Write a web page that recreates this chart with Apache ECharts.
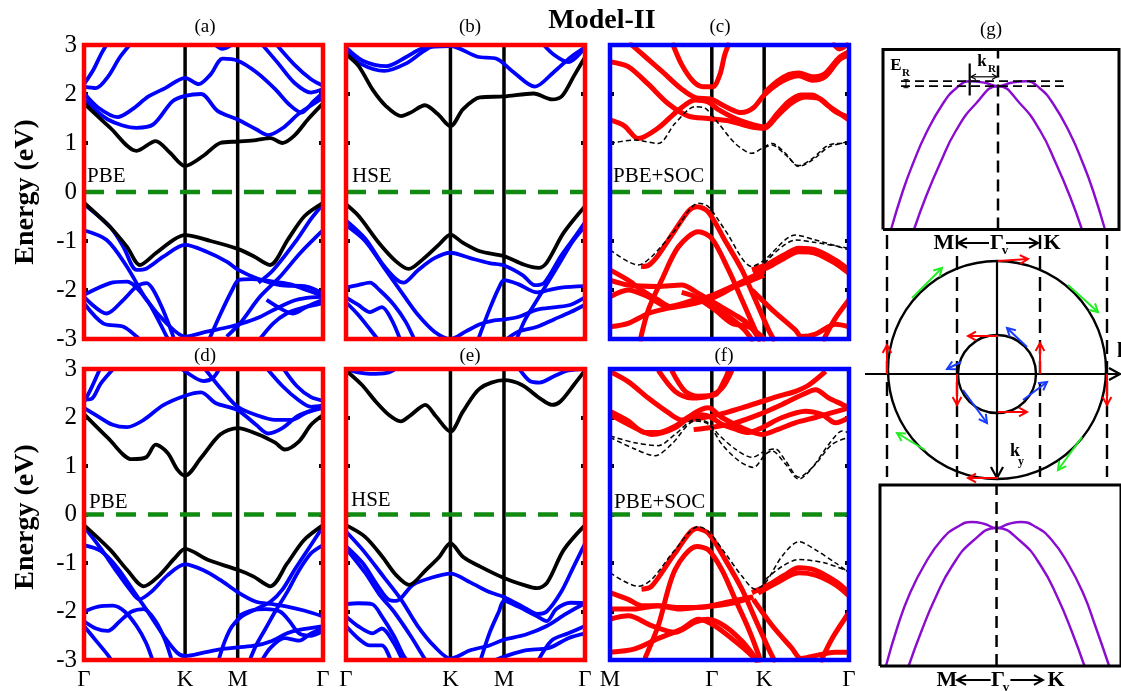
<!DOCTYPE html>
<html><head><meta charset="utf-8">
<script src="https://cdn.jsdelivr.net/npm/echarts@6/dist/echarts.min.js"></script>
<style>html,body{margin:0;padding:0;background:#fff}#c{width:1121px;height:691px}</style>
</head><body><div id="c"></div>
<script>
// ================= DATA =================
const energyRange = [-3, 3];
const pathGKMG = ['Γ','K','M','Γ'];
const pathMGKG = ['M','Γ','K','Γ'];
const kposAD = [0, 0.423, 0.643, 1];
const kposBE = [0, 0.437, 0.661, 1];
const kposCF = [0, 0.426, 0.645, 1];

const panelA_black = [
 [[0,1.81],[0.11,1.31],[0.22,0.84],[0.30,1.04],[0.36,0.80],[0.423,0.53],[0.50,0.74],[0.57,1.0],[0.643,1.03],[0.72,1.06],[0.78,1.1],[0.83,1.0],[0.88,1.15],[0.94,1.5],[1,1.81]],
 [[0,-0.22],[0.11,-0.72],[0.18,-1.12],[0.234,-1.49],[0.3,-1.25],[0.376,-0.97],[0.423,-0.88],[0.53,-1.0],[0.643,-1.16],[0.71,-1.31],[0.778,-1.49],[0.853,-0.97],[0.923,-0.49],[1,-0.22]]
];
const panelA_blue = [
 [[0,2.2],[0.04,2.5],[0.07,2.8],[0.1,3.05]],
 [[0,2.15],[0.05,2.12],[0.1,2.35],[0.15,2.75],[0.2,3.05]],
 [[0,2.02],[0.06,1.72],[0.14,1.53],[0.2,1.68],[0.27,1.95],[0.34,2.12],[0.423,2.33],[0.48,2.2],[0.53,2.4],[0.58,2.72],[0.643,2.68],[0.72,2.45],[0.8,2.1],[0.86,1.78],[0.91,1.62],[0.96,1.85],[1,2.03]],
 [[0,1.9],[0.1,1.48],[0.22,1.31],[0.29,1.38],[0.37,1.85],[0.423,1.96],[0.49,2.0],[0.56,1.65],[0.643,1.48],[0.72,1.28],[0.77,1.16],[0.83,1.3],[0.9,1.6],[1,1.92]],
 [[0.54,3.04],[0.58,2.92],[0.63,3.04]],
 [[0.74,3.04],[0.81,2.64],[0.88,2.23],[0.95,2.03],[1,2.1]],
 [[0.8,3.04],[0.88,2.6],[0.95,2.3],[1,2.17]],
 [[0,-0.25],[0.109,-0.71],[0.165,-1.12],[0.22,-1.59],[0.262,-1.56],[0.332,-1.32],[0.423,-1.08],[0.513,-1.22],[0.597,-1.42],[0.646,-1.59],[0.722,-1.76],[0.82,-1.9],[0.932,-1.93],[1,-2.07]],
 [[0,-0.78],[0.095,-0.98],[0.179,-1.52],[0.262,-2.2],[0.346,-2.68],[0.423,-2.95],[0.513,-2.85],[0.611,-2.75],[0.681,-2.65],[0.736,-2.55],[0.82,-2.34],[0.89,-2.2],[0.95,-2.15],[1,-2.14]],
 [[0.52,-3.05],[0.57,-2.5],[0.62,-2.0],[0.646,-1.8],[0.7,-1.78],[0.78,-1.82],[0.86,-1.88],[0.93,-2.0],[1,-2.12]],
 [[0.597,-2.95],[0.653,-2.68],[0.736,-2.14],[0.82,-1.73],[0.904,-1.25],[1,-0.78]],
 [[0.73,-1.85],[0.792,-1.59],[0.89,-0.98],[0.95,-0.55],[1,-0.25]],
 [[0,-2.1],[0.109,-1.86],[0.179,-1.83],[0.262,-2.2],[0.318,-2.68],[0.346,-2.95],[0.36,-3.05]],
 [[0,-2.14],[0.095,-2.48],[0.165,-2.2],[0.22,-1.93],[0.262,-1.86],[0.29,-2.0],[0.33,-2.4],[0.37,-2.9],[0.38,-3.05]],
 [[0,-2.27],[0.08,-2.68],[0.165,-2.75],[0.22,-2.95],[0.24,-3.05]],
 [[0.764,-2.2],[0.834,-2.41],[0.876,-2.48],[0.932,-2.34],[1,-2.2]],
 [[0.736,-3.0],[0.792,-2.68],[0.848,-2.48],[0.904,-2.38],[1,-2.27]]
];

const panelB_black = [
 [[0,2.81],[0.053,2.57],[0.11,2.10],[0.166,1.76],[0.23,1.55],[0.27,1.62],[0.33,1.77],[0.384,1.59],[0.437,1.34],[0.49,1.69],[0.56,1.93],[0.661,1.95],[0.785,2.01],[0.862,1.89],[0.904,1.96],[0.954,2.37],[1,2.75]],
 [[0,-0.25],[0.053,-0.49],[0.138,-1.04],[0.208,-1.41],[0.262,-1.57],[0.32,-1.38],[0.39,-1.07],[0.437,-0.87],[0.49,-1.04],[0.56,-1.21],[0.661,-1.31],[0.743,-1.48],[0.806,-1.55],[0.84,-1.44],[0.911,-0.83],[1,-0.29]]
];
const panelB_blue = [
 [[0,2.95],[0.07,2.68],[0.17,2.57],[0.25,2.75],[0.32,2.93],[0.437,2.98],[0.55,2.76],[0.63,2.72],[0.7,2.45],[0.79,2.15],[0.87,2.45],[0.94,2.75],[1,2.95]],
 [[0,2.88],[0.06,2.62],[0.16,2.47],[0.25,2.62],[0.32,2.86],[0.38,3.04]],
 [[0.82,3.04],[0.87,2.8],[0.93,2.65],[1,2.95]],
 [[0,-0.58],[0.08,-0.95],[0.15,-1.45],[0.21,-1.78],[0.24,-1.85],[0.3,-1.6],[0.37,-1.35],[0.437,-1.24],[0.52,-1.35],[0.6,-1.45],[0.661,-1.5],[0.74,-1.7],[0.79,-1.9],[0.83,-1.85],[0.9,-1.3],[0.96,-0.9],[1,-0.62]],
 [[0,-0.68],[0.08,-1.0],[0.16,-1.55],[0.24,-2.1],[0.3,-2.5],[0.37,-2.85],[0.437,-3.0],[0.5,-2.85],[0.56,-2.7],[0.62,-2.62],[0.661,-2.6],[0.72,-2.55],[0.8,-2.4],[0.88,-2.35],[0.94,-2.3],[1,-2.15]],
 [[0.55,-3.05],[0.6,-2.4],[0.64,-1.95],[0.661,-1.8],[0.72,-1.88],[0.8,-2.05],[0.85,-2.0],[0.9,-1.95],[1,-1.92]],
 [[0.71,-3.05],[0.75,-2.6],[0.8,-2.2],[0.85,-1.8],[0.9,-1.4],[0.95,-1.0],[1,-0.7]],
 [[0.66,-3.05],[0.72,-2.85],[0.8,-2.75],[0.87,-2.6],[0.94,-2.45],[1,-2.3]],
 [[0,-1.95],[0.05,-1.9],[0.1,-1.85],[0.14,-2.0],[0.2,-2.3],[0.25,-2.65],[0.29,-3.05]],
 [[0,-2.15],[0.05,-2.3],[0.1,-2.45],[0.15,-2.35],[0.19,-2.6],[0.23,-3.05]],
 [[0,-2.25],[0.05,-2.5],[0.1,-2.8],[0.14,-3.05]]
];

const panelC_red = [
 [[0,1.47],[0.06,1.35],[0.118,1.09],[0.2,1.3],[0.286,1.67],[0.356,1.88],[0.41,1.84],[0.454,1.68],[0.524,1.5],[0.594,1.38],[0.645,1.33],[0.7,1.6],[0.748,1.85],[0.8,1.98],[0.846,1.98],[0.916,1.75],[1,1.47]],
 [[0,2.66],[0.076,2.56],[0.16,2.2],[0.244,1.8],[0.328,1.55],[0.41,1.5],[0.5,1.45],[0.58,1.34],[0.645,1.3],[0.7,1.55],[0.76,1.82],[0.82,1.94],[0.88,1.9],[0.94,1.65],[1,1.52]],
 [[0.26,3.05],[0.3,2.6],[0.35,2.25],[0.39,2.15],[0.43,2.15],[0.46,2.4],[0.48,2.8],[0.5,3.05]],
 [[0.08,3.05],[0.15,2.75],[0.22,2.45],[0.3,2.1],[0.36,1.92],[0.42,1.9],[0.48,1.75],[0.55,1.62],[0.6,1.72],[0.645,1.98],[0.7,2.2],[0.75,2.33],[0.79,2.37],[0.846,2.28],[0.9,2.35],[0.958,2.69],[1,2.8]],
 [[0.645,2.02],[0.7,2.26],[0.75,2.4],[0.79,2.43],[0.846,2.35],[0.9,2.42],[0.958,2.74],[1,2.86]],
 [[0.93,3.05],[0.96,2.92],[1,3.04]],
 [[0.13,-1.52],[0.16,-1.5],[0.2,-1.3],[0.272,-0.78],[0.33,-0.38],[0.363,-0.3],[0.41,-0.4],[0.48,-0.98],[0.552,-1.59],[0.608,-2.2],[0.664,-2.82],[0.69,-3.05]],
 [[0.125,-3.05],[0.16,-2.41],[0.216,-1.8],[0.286,-1.12],[0.37,-0.81],[0.426,-0.95],[0.496,-1.59],[0.552,-2.2],[0.608,-2.82],[0.63,-3.05]],
 [[0.594,-1.59],[0.664,-1.46],[0.73,-1.28],[0.79,-1.15],[0.86,-1.18],[0.944,-1.39],[1,-1.59]],
 [[0.6,-1.66],[0.664,-1.53],[0.73,-1.35],[0.79,-1.22],[0.86,-1.25],[0.944,-1.46],[1,-1.66]],
 [[0,-1.59],[0.076,-1.8],[0.132,-2.0],[0.2,-2.2],[0.26,-2.35],[0.33,-2.25],[0.37,-2.2],[0.43,-2.35],[0.5,-2.55],[0.56,-2.8],[0.6,-3.05]],
 [[0,-1.8],[0.076,-1.9],[0.2,-1.93],[0.3,-1.9],[0.37,-2.07],[0.45,-2.3],[0.52,-2.5],[0.58,-2.7],[0.63,-3.05]],
 [[0,-2.14],[0.076,-2.0],[0.16,-2.14],[0.244,-2.34],[0.356,-2.2],[0.41,-2.14],[0.51,-1.93],[0.594,-1.73],[0.645,-1.62]],
 [[0,-2.75],[0.076,-2.68],[0.16,-2.48],[0.244,-2.37],[0.356,-2.27],[0.44,-2.14],[0.524,-1.93],[0.594,-1.8],[0.645,-1.7]],
 [[0.3,-2.05],[0.356,-2.14],[0.44,-2.41],[0.51,-2.68],[0.58,-2.75],[0.636,-2.95],[0.65,-3.05]],
 [[0.594,-2.0],[0.68,-2.41],[0.776,-2.82],[0.8,-2.95],[0.86,-2.9],[0.944,-2.7],[1,-2.75]],
 [[0.89,-3.05],[0.94,-2.6],[1,-2.2]]
];
const panelC_dash = [
 [[0,0.99],[0.104,1.06],[0.202,0.99],[0.272,1.4],[0.356,1.74],[0.398,1.71],[0.454,1.4],[0.524,0.99],[0.594,0.79],[0.645,0.92],[0.678,0.99],[0.734,0.79],[0.79,0.52],[0.846,0.65],[0.916,0.92],[1,1.03]],
 [[0.645,0.9],[0.678,0.96],[0.734,0.76],[0.79,0.54],[0.846,0.68],[0.916,0.96],[1,1.0]],
 [[0,-1.18],[0.118,-1.49],[0.174,-1.32],[0.272,-0.78],[0.37,-0.23],[0.412,-0.3],[0.482,-0.78],[0.594,-1.52],[0.645,-1.39],[0.776,-0.88],[0.86,-0.98],[1,-1.18]],
 [[0.645,-1.46],[0.776,-0.98],[0.86,-1.03],[1,-1.15]]
];

const panelD_black = [
 [[0,2.07],[0.1,1.58],[0.2,1.14],[0.26,1.18],[0.30,1.44],[0.35,1.27],[0.39,0.93],[0.423,0.8],[0.49,1.17],[0.57,1.65],[0.643,1.78],[0.73,1.65],[0.8,1.48],[0.84,1.34],[0.9,1.51],[0.95,1.85],[1,2.05]],
 [[0,-0.22],[0.11,-0.73],[0.18,-1.14],[0.25,-1.48],[0.31,-1.28],[0.38,-0.9],[0.423,-0.71],[0.52,-0.94],[0.643,-1.14],[0.71,-1.28],[0.78,-1.48],[0.85,-1.01],[0.92,-0.53],[1,-0.22]]
];
const panelD_blue = [
 [[0,2.37],[0.03,2.38],[0.07,2.7],[0.13,3.04]],
 [[0,2.32],[0.03,2.6],[0.07,3.04]],
 [[0,2.2],[0.05,2.05],[0.12,1.85],[0.18,1.8],[0.25,1.95],[0.33,2.25],[0.423,2.45],[0.49,2.52],[0.55,2.3],[0.643,2.15],[0.72,1.85],[0.77,1.67],[0.83,1.78],[0.9,2.05],[1,2.2]],
 [[0.5,3.04],[0.58,2.55],[0.643,2.22],[0.72,2.05],[0.8,1.95],[0.87,1.95],[0.93,2.1],[1,2.22]],
 [[0.4,3.04],[0.423,2.95],[0.5,2.75],[0.54,2.82],[0.57,3.04]],
 [[0.76,3.04],[0.83,2.65],[0.9,2.35],[0.95,2.22],[1,2.25]],
 [[0.83,3.04],[0.89,2.65],[0.95,2.42],[1,2.35]],
 [[0,-0.25],[0.07,-0.7],[0.14,-1.2],[0.2,-1.6],[0.23,-1.75],[0.28,-1.6],[0.35,-1.25],[0.423,-1.03],[0.5,-1.15],[0.57,-1.35],[0.643,-1.6],[0.72,-1.8],[0.79,-1.85],[0.85,-1.9],[0.92,-1.98],[1,-2.1]],
 [[0,-0.63],[0.07,-0.75],[0.14,-1.1],[0.21,-1.6],[0.28,-2.1],[0.34,-2.55],[0.39,-2.85],[0.423,-2.92],[0.5,-2.85],[0.57,-2.78],[0.643,-2.74],[0.72,-2.7],[0.78,-2.62],[0.85,-2.45],[0.9,-2.38],[1,-2.3]],
 [[0.56,-3.05],[0.59,-2.6],[0.62,-2.3],[0.66,-2.1],[0.72,-1.95],[0.78,-1.8],[0.83,-1.55],[0.88,-1.15],[0.94,-0.7],[1,-0.25]],
 [[0.69,-3.05],[0.72,-2.7],[0.76,-2.35],[0.8,-2.0],[0.85,-1.6],[0.9,-1.15],[0.95,-0.8],[1,-0.63]],
 [[0,-2.0],[0.06,-1.9],[0.12,-1.88],[0.17,-2.0],[0.22,-2.3],[0.26,-2.65],[0.29,-3.05]],
 [[0,-2.2],[0.05,-2.35],[0.1,-2.4],[0.15,-2.2],[0.2,-2.0],[0.25,-1.95],[0.3,-2.2],[0.34,-2.6],[0.37,-3.05]],
 [[0,-2.3],[0.05,-2.6],[0.1,-2.9],[0.12,-3.05]],
 [[0.643,-2.1],[0.7,-1.98],[0.76,-1.95],[0.82,-2.0],[0.86,-2.2],[0.9,-2.45],[0.95,-2.5],[1,-2.4]],
 [[0.74,-3.05],[0.78,-2.75],[0.84,-2.55],[0.9,-2.6],[0.95,-2.45],[1,-2.35]]
];

const panelE_black = [
 [[0,2.97],[0.067,2.67],[0.124,2.33],[0.18,2.05],[0.229,1.92],[0.271,2.05],[0.332,2.26],[0.377,2.02],[0.437,1.71],[0.489,2.12],[0.56,2.6],[0.661,2.77],[0.736,2.67],[0.813,2.39],[0.862,2.26],[0.897,2.33],[0.953,2.67],[1,2.97]],
 [[0,-0.22],[0.08,-0.46],[0.152,-0.87],[0.208,-1.24],[0.264,-1.45],[0.335,-1.14],[0.391,-0.87],[0.437,-0.59],[0.489,-0.87],[0.56,-1.07],[0.661,-1.31],[0.742,-1.45],[0.799,-1.52],[0.841,-1.41],[0.911,-0.73],[1,-0.22]]
];
const panelE_blue = [
 [[0,3.0],[0.05,2.93],[0.1,2.9],[0.17,2.92],[0.22,3.04]],
 [[0.72,3.04],[0.77,2.75],[0.81,2.72],[0.87,2.85],[0.93,2.97],[1,3.0]],
 [[0,-0.35],[0.07,-0.73],[0.16,-1.3],[0.23,-1.75],[0.3,-2.3],[0.37,-2.72],[0.437,-2.97],[0.52,-2.8],[0.6,-2.7],[0.661,-2.58],[0.75,-2.48],[0.84,-2.3],[0.92,-2.05],[1,-1.83]],
 [[0,-0.65],[0.07,-1.0],[0.13,-1.45],[0.18,-1.76],[0.21,-1.78],[0.28,-1.45],[0.36,-1.3],[0.437,-1.22],[0.52,-1.4],[0.6,-1.6],[0.661,-1.7],[0.75,-1.93],[0.8,-2.05],[0.84,-2.0],[0.9,-1.6],[0.95,-1.1],[1,-0.6]],
 [[0,-0.7],[0.08,-1.2],[0.14,-1.65],[0.2,-2.0],[0.27,-2.5],[0.32,-2.9],[0.34,-3.05]],
 [[0,-1.85],[0.05,-1.83],[0.11,-1.85],[0.15,-2.1],[0.2,-2.5],[0.24,-2.9],[0.26,-3.05]],
 [[0,-2.1],[0.05,-2.3],[0.11,-2.45],[0.15,-2.35],[0.2,-2.65],[0.24,-3.05]],
 [[0,-2.3],[0.05,-2.55],[0.1,-2.7],[0.15,-2.7],[0.19,-3.05]],
 [[0.56,-3.05],[0.6,-2.45],[0.64,-2.0],[0.661,-1.78],[0.72,-1.9],[0.8,-2.1],[0.84,-2.2],[0.88,-1.95],[0.94,-1.82],[1,-1.83]],
 [[0.8,-3.05],[0.86,-2.6],[0.93,-2.45],[1,-2.3]],
 [[0.6,-3.05],[0.68,-2.9],[0.75,-2.8],[0.85,-2.75],[0.93,-2.55],[1,-2.45]]
];

const panelF_red = [
 [[0,2.13],[0.076,1.93],[0.146,1.69],[0.202,1.69],[0.272,1.82],[0.356,2.06],[0.412,2.03],[0.468,1.86],[0.524,1.76],[0.58,1.69],[0.636,1.79],[0.72,2.0],[0.818,2.13],[0.888,2.06],[0.944,1.89],[1,2.0]],
 [[0,2.06],[0.104,1.79],[0.174,1.65],[0.272,1.79],[0.356,2.1],[0.412,2.2],[0.468,2.0],[0.552,1.79],[0.636,1.65],[0.7,1.75],[0.78,1.9],[0.86,2.0],[0.93,2.1],[1,2.2]],
 [[0,2.95],[0.076,2.74],[0.16,2.4],[0.244,2.1],[0.3,1.95],[0.37,1.98],[0.454,2.06],[0.552,2.2],[0.636,2.33],[0.706,2.44],[0.776,2.54],[0.832,2.67],[0.902,2.95]],
 [[0.35,1.75],[0.43,1.8],[0.524,1.89],[0.622,2.06],[0.72,2.27],[0.804,2.47],[0.86,2.57],[0.916,2.4],[0.972,2.27],[1,2.2]],
 [[0.202,2.97],[0.272,2.54],[0.342,2.4],[0.412,2.44],[0.468,2.6],[0.51,2.97]],
 [[0.258,2.97],[0.314,2.54],[0.37,2.44],[0.44,2.47],[0.482,2.8],[0.496,2.97]],
 [[0.132,-1.54],[0.174,-1.48],[0.272,-0.8],[0.363,-0.29],[0.412,-0.39],[0.482,-0.93],[0.552,-1.54],[0.608,-2.16],[0.664,-2.77],[0.692,-3.05]],
 [[0.146,-2.97],[0.202,-2.29],[0.272,-1.14],[0.363,-0.66],[0.412,-0.73],[0.468,-1.14],[0.524,-1.75],[0.58,-2.36],[0.622,-2.9],[0.63,-3.05]],
 [[0.594,-1.61],[0.664,-1.45],[0.73,-1.25],[0.79,-1.1],[0.86,-1.15],[0.944,-1.38],[1,-1.61]],
 [[0.62,-1.62],[0.7,-1.4],[0.79,-1.2],[0.86,-1.25],[0.944,-1.45],[1,-1.68]],
 [[0,-1.61],[0.076,-1.75],[0.132,-1.88],[0.2,-1.88],[0.3,-1.92],[0.4,-1.9],[0.5,-1.8],[0.594,-1.7]],
 [[0,-1.95],[0.1,-1.95],[0.2,-1.88],[0.29,-1.95],[0.36,-1.92],[0.44,-1.88],[0.52,-1.82],[0.6,-1.7]],
 [[0,-2.16],[0.076,-2.09],[0.174,-2.29],[0.272,-2.43],[0.356,-2.22],[0.41,-2.16],[0.48,-2.3],[0.55,-2.6],[0.6,-2.9],[0.62,-3.05]],
 [[0,-2.84],[0.104,-2.77],[0.2,-2.56],[0.3,-2.36],[0.37,-2.16],[0.44,-2.3],[0.52,-2.6],[0.58,-2.85],[0.62,-3.05]],
 [[0.6,-1.75],[0.68,-2.3],[0.76,-2.75],[0.8,-2.97],[0.87,-2.9],[0.94,-2.84],[1,-2.84]],
 [[0.88,-3.05],[0.93,-2.55],[1,-2.02]]
];
const panelF_dash = [
 [[0,1.62],[0.104,1.48],[0.202,1.42],[0.272,1.65],[0.356,1.96],[0.412,1.89],[0.454,1.65],[0.524,1.35],[0.594,1.18],[0.65,1.31],[0.692,1.35],[0.734,1.11],[0.79,0.77],[0.846,0.97],[0.916,1.45],[0.972,1.72],[1,1.69]],
 [[0,1.59],[0.104,1.35],[0.188,1.21],[0.258,1.45],[0.356,1.93],[0.412,1.86],[0.468,1.45],[0.538,1.11],[0.6,0.97],[0.65,1.24],[0.678,1.31],[0.734,1.04],[0.79,0.73],[0.86,1.04],[0.93,1.45],[1,1.59]],
 [[0,-1.2],[0.118,-1.48],[0.174,-1.34],[0.272,-0.73],[0.37,-0.25],[0.412,-0.35],[0.482,-0.8],[0.552,-1.27],[0.608,-1.54],[0.65,-1.41],[0.72,-0.86],[0.79,-0.56],[0.86,-0.73],[0.944,-1.0],[1,-1.2]],
 [[0.65,-1.34],[0.72,-1.07],[0.79,-0.93],[0.9,-1.0],[1,-1.18]]
];

// panel (g): schematic Rashba bands (k, E in arbitrary units)
const gTopOuter = [[-107,0],[-95,39],[-85,66],[-72,96],[-55,126],[-42,141],[-28,148.3],[-13,146.7],[0,143.3],[13,146.7],[28,148.3],[42,141],[55,126],[72,96],[85,66],[95,39],[107,0]];
const gTopInner = [[-84,0],[-72,33],[-58,66],[-42,99],[-22,126],[0,143.3],[22,126],[42,99],[58,66],[72,33],[84,0]];
const gBotOuter = [[-112,0],[-100,40],[-88,72],[-72,103],[-55,127],[-40,139],[-25,144],[-12,142],[0,138],[12,142],[25,144],[40,139],[55,127],[72,103],[88,72],[100,40],[114,0]];
const gBotInner = [[-89,0],[-76,35],[-62,68],[-45,100],[-24,125],[0,138],[24,125],[45,100],[62,68],[76,35],[89,0]];
const gRashbaLevels = [148.3, 143.3];
const gKR = -28.3;
// spin texture: circles [cx, cy, r] and arrows [x0,y0,x1,y1]
const spinCircles = [[0,4,109],[0,0,39]];
const spinAxes = [[-132,0,123,0],[0,113,0,-104]];
const spinDashX = [-110,-40,43,110];
const outerRedArrows = [[1,113,31,115],[1,-104,-29,-104],[-110,0,-110,29],[110,0,110,-31]];
const greenArrows = [[-85,76,-55,106],[71,89,101,62],[-72,-76,-100,-59],[85,-63,61,-96]];
const innerRedArrows = [[1,38,-29,38],[1,-38,30,-38],[-40,0,-40,-31],[43,0,43,31]];
const blueArrows = [[30,27,10,46],[-36,12,-50,5],[-34,-16,-10,-49],[26,-26,50,-8]];
const labelArrowsMid = [[-8,131,-39,131],[9,131,41,131]];
const labelArrowsBot = [[-6,-14,-40,-14],[14,-14,47,-14]];
const kRArrows = [[-14,152.7,-27,152.7],[-14,152.7,-1,152.7]];

// ================= LAYOUT / STYLE =================
const SERIF = '"Liberation Serif","Times New Roman",serif';
const RED = '#ff0000', BLUE = '#0000ff', FRBLUE = '#0000ff', GREEN = '#118a11', PURPLE = '#8a0ccf';
const panels = [
 {left:84, top:45, kpos:kposAD, labels:null, frame:RED, yLab:true, black:panelA_black, blue:panelA_blue, red:[], dash:[]},
 {left:346, top:45, kpos:kposBE, labels:null, frame:RED, yLab:false, black:panelB_black, blue:panelB_blue, red:[], dash:[]},
 {left:610, top:45, kpos:kposCF, labels:null, frame:FRBLUE, yLab:false, black:[], blue:[], red:panelC_red, dash:panelC_dash},
 {left:84, top:369, kpos:kposAD, labels:pathGKMG, frame:RED, yLab:true, black:panelD_black, blue:panelD_blue, red:[], dash:[]},
 {left:346, top:369, kpos:kposBE, labels:pathGKMG, frame:RED, yLab:false, black:panelE_black, blue:panelE_blue, red:[], dash:[]},
 {left:610, top:369, kpos:kposCF, labels:pathMGKG, frame:FRBLUE, yLab:false, black:[], blue:[], red:panelF_red, dash:panelF_dash}
];

const grids = [], xAxes = [], yAxes = [], series = [];
function nearestIdx(arr, v){ let b=0; arr.forEach((a,i)=>{ if (Math.abs(a-v) < Math.abs(arr[b]-v)) b=i; }); return b; }
function lineS(xi, yi, data, color, width, z, opts){
  return Object.assign({type:'line', xAxisIndex:xi, yAxisIndex:yi, data:data, symbol:'none', showSymbol:false,
    silent:true, animation:false, z:z, lineStyle:{color:color, width:width}}, opts||{});
}
function bandS(xi, yi, data, color, width, z, type){
  const s = lineS(xi, yi, data, color, width, z, {smooth:0.3});
  s.lineStyle.join = 'round';
  if (type) s.lineStyle.type = type;
  return s;
}

panels.forEach((p, i) => {
  grids.push({left:p.left, top:p.top, width:239, height:294, show:false});
  xAxes.push({gridIndex:i, type:'value', min:0, max:1, axisLine:{show:false}, axisTick:{show:false}, splitLine:{show:false},
    axisLabel: p.labels ? {show:true, customValues:p.kpos, showMinLabel:true, showMaxLabel:true,
      formatter:(v)=>p.labels[nearestIdx(p.kpos, v)], fontSize:23, fontFamily:SERIF, color:'#000', margin:8} : {show:false}});
  const yl = yAxes.length;
  const tick = {show:true, inside:true, length:4, lineStyle:{color:'#000', width:4}};
  yAxes.push({gridIndex:i, type:'value', min:energyRange[0], max:energyRange[1], interval:1, position:'left',
    axisLine:{show:false}, splitLine:{show:false}, axisTick:tick,
    axisLabel: p.yLab ? {show:true, fontSize:25, fontFamily:SERIF, color:'#000', margin:7} : {show:false}});
  yAxes.push({gridIndex:i, type:'value', min:energyRange[0], max:energyRange[1], interval:1, position:'right',
    axisLine:{show:false}, splitLine:{show:false}, axisTick:tick, axisLabel:{show:false}});
  [p.kpos[1], p.kpos[2]].forEach(k => series.push(lineS(i, yl, [[k,energyRange[0]],[k,energyRange[1]]], '#000', 3.5, 3)));
  p.blue.forEach(b => series.push(bandS(i, yl, b, BLUE, 3.8, 5)));
  p.red.forEach(b => series.push(bandS(i, yl, b, RED, 5, 5)));
  p.black.forEach(b => series.push(bandS(i, yl, b, '#000', 3.8, 6)));
  p.dash.forEach(b => series.push(bandS(i, yl, b, '#000', 1.5, 6, [5,3])));
  series.push(lineS(i, yl, [[0,0],[1,0]], GREEN, 4.5, 7, {lineStyle:{color:GREEN, width:4.5, type:[20,12]}}));
  series.push(lineS(i, yl, [[0,-3],[1,-3],[1,3],[0,3],[0,-3]], p.frame, 4.5, 10,
    {clip:false, lineStyle:{color:p.frame, width:4.5, join:'miter', cap:'square'}}));
});

// ---- panel (g) grids ----
const gTop = grids.length;
grids.push({left:883, top:49.5, width:236, height:180, show:false});
xAxes.push({gridIndex:gTop, type:'value', min:-115, max:121, show:false});
const gTopY = yAxes.length;
yAxes.push({gridIndex:gTop, type:'value', min:0, max:180, show:false});

const gBot = grids.length;
grids.push({left:880, top:485, width:244, height:181, show:false});
xAxes.push({gridIndex:gBot, type:'value', min:-118, max:126, show:false});
const gBotY = yAxes.length;
yAxes.push({gridIndex:gBot, type:'value', min:0, max:181, show:false});

const gMid = grids.length;
grids.push({left:862, top:232, width:259, height:248, show:false});
xAxes.push({gridIndex:gMid, type:'value', min:-135, max:124, show:false});
const gMidY = yAxes.length;
yAxes.push({gridIndex:gMid, type:'value', min:-106, max:142, show:false});

function curveS(xi, yi, data){ return lineS(xi, yi, data, PURPLE, 2.4, 5, {smooth:0.5}); }
series.push(lineS(gTop, gTopY, [[-115,0],[121,0],[121,180],[-115,180],[-115,0]], '#000', 3, 10, {clip:false, lineStyle:{color:'#000', width:3, join:'miter'}}));
series.push(curveS(gTop, gTopY, gTopOuter));
series.push(curveS(gTop, gTopY, gTopInner));
series.push(lineS(gTop, gTopY, [[0,0],[0,180]], '#000', 2.5, 6, {lineStyle:{color:'#000', width:2.5, type:[12,7]}}));
series.push(lineS(gTop, gTopY, [[-97,gRashbaLevels[0]],[65,gRashbaLevels[0]]], '#000', 1.8, 6, {lineStyle:{color:'#000', width:1.8, type:[9,5]}}));
series.push(lineS(gTop, gTopY, [[-97,gRashbaLevels[1]],[67,gRashbaLevels[1]]], '#000', 1.8, 6, {lineStyle:{color:'#000', width:1.8, type:[9,5]}}));
series.push(lineS(gTop, gTopY, [[gKR,166],[gKR,134]], '#000', 2.2, 7));
series.push(lineS(gTop, gTopY, [[-92,gRashbaLevels[0]+1.5],[-92,gRashbaLevels[1]-1.5]], '#000', 1, 7));
series.push(lineS(gTop, gTopY, [[-94.5,gRashbaLevels[0]+1.5],[-89.5,gRashbaLevels[0]+1.5]], '#000', 1, 7));
series.push(lineS(gTop, gTopY, [[-94.5,gRashbaLevels[1]-1.5],[-89.5,gRashbaLevels[1]-1.5]], '#000', 1, 7));

series.push(lineS(gBot, gBotY, [[-118,0],[126,0],[126,181],[-118,181],[-118,0]], '#000', 3, 10, {clip:false, lineStyle:{color:'#000', width:3, join:'miter'}}));
series.push(curveS(gBot, gBotY, gBotOuter));
series.push(curveS(gBot, gBotY, gBotInner));
series.push(lineS(gBot, gBotY, [[0,0],[0,181]], '#000', 2.5, 6, {lineStyle:{color:'#000', width:2.5, type:[12,7]}}));

function arrowSeries(xi, yi, data, color, lw, head, z){
  return {type:'custom', xAxisIndex:xi, yAxisIndex:yi, data:data, clip:false, silent:true, animation:false, z:z||8,
    itemStyle:{color:color},
    renderItem:function(params, api){
      const p0 = api.coord([api.value(0), api.value(1)]);
      const p1 = api.coord([api.value(2), api.value(3)]);
      const dx=p1[0]-p0[0], dy=p1[1]-p0[1], L=Math.hypot(dx,dy)||1;
      const ux=dx/L, uy=dy/L, nx=-uy, ny=ux, w=head*0.55;
      return {type:'group', children:[
        {type:'line', shape:{x1:p0[0],y1:p0[1],x2:p1[0],y2:p1[1]}, style:{stroke:color, lineWidth:lw}},
        {type:'polyline', shape:{points:[[p1[0]-head*ux+w*nx, p1[1]-head*uy+w*ny],[p1[0],p1[1]],[p1[0]-head*ux-w*nx, p1[1]-head*uy-w*ny]]},
          style:{stroke:color, fill:'none', lineWidth:lw}}
      ]};
    }};
}
spinDashX.forEach(x => series.push(lineS(gMid, gMidY, [[x,139],[x,-103]], '#000', 2.4, 4, {clip:false, lineStyle:{color:'#000', width:2.4, type:[14,7]}})));
series.push({type:'custom', xAxisIndex:gMid, yAxisIndex:gMidY, data:spinCircles, clip:false, silent:true, animation:false, z:5,
  renderItem:function(params, api){
    const c = api.coord([api.value(0), api.value(1)]);
    const r = api.size([api.value(2), 0])[0];
    return {type:'circle', shape:{cx:c[0], cy:c[1], r:r}, style:{fill:'none', stroke:'#000', lineWidth:2.4}};
  }});
series.push(arrowSeries(gMid, gMidY, spinAxes, '#000', 2.2, 11, 6));
series.push(arrowSeries(gMid, gMidY, outerRedArrows, '#ff0000', 2, 8));
series.push(arrowSeries(gMid, gMidY, greenArrows, '#22ee22', 2, 8));
series.push(arrowSeries(gMid, gMidY, innerRedArrows, '#ff0000', 2, 8));
series.push(arrowSeries(gMid, gMidY, blueArrows, '#1a3cff', 2, 8));
series.push(arrowSeries(gMid, gMidY, labelArrowsMid, '#000', 2, 9));
series.push(arrowSeries(gBot, gBotY, labelArrowsBot, '#000', 2, 9));
series.push(arrowSeries(gTop, gTopY, kRArrows, '#000', 1.2, 5));

function txt(t, x, y, size, opts){
  opts = opts || {};
  return {type:'text', x:x, y:y, rotation:opts.rot||0, silent:true, z:20,
    style:{text:t, fill:'#000', font:(opts.bold?'bold ':'')+size+'px '+SERIF,
      textAlign:opts.align||'center', align:opts.align||'center', textVerticalAlign:'middle', verticalAlign:'middle'}};
}
const graphics = [
  txt('Model-II', 602, 21, 28, {bold:true}),
  txt('(a)', 205, 27, 19), txt('(b)', 470, 27, 19), txt('(c)', 720, 27, 19), txt('(g)', 991, 30, 19),
  txt('(d)', 205, 356, 19), txt('(e)', 470, 356, 19), txt('(f)', 724, 356, 19),
  txt('Energy (eV)', 26, 192, 28, {bold:true, rot:Math.PI/2}),
  txt('Energy (eV)', 26, 517, 28, {bold:true, rot:Math.PI/2}),
  txt('PBE', 87, 176, 21, {align:'left'}), txt('HSE', 352, 176, 21, {align:'left'}), txt('PBE+SOC', 613, 176, 21, {align:'left'}),
  txt('PBE', 89, 502, 21, {align:'left'}), txt('HSE', 351, 500, 21, {align:'left'}), txt('PBE+SOC', 614, 502, 21, {align:'left'}),
  txt('E', 896, 66, 17, {bold:true}), txt('R', 906, 73, 11, {bold:true}),
  txt('k', 982, 62, 17, {bold:true}), txt('R', 992, 69, 11, {bold:true}),
  txt('M', 944, 243, 22, {bold:true}), txt('Γ', 997, 243, 22, {bold:true}), txt('v', 1005, 251, 13, {bold:true}), txt('K', 1052, 243, 22, {bold:true}),
  txt('M', 947, 680, 22, {bold:true}), txt('Γ', 998, 680, 22, {bold:true}), txt('v', 1006, 688, 13, {bold:true}), txt('K', 1056, 680, 22, {bold:true}),
  txt('k', 1015, 451, 18, {bold:true}), txt('y', 1021, 462, 12, {bold:true}),
  txt('k', 1117, 352, 20, {bold:true, align:'left'})
];

const chart = echarts.init(document.getElementById('c'), null, {renderer:'canvas', width:1121, height:691});
chart.setOption({animation:false, backgroundColor:'#fff', grid:grids, xAxis:xAxes, yAxis:yAxes, series:series, graphic:graphics});
</script>
</body></html>
